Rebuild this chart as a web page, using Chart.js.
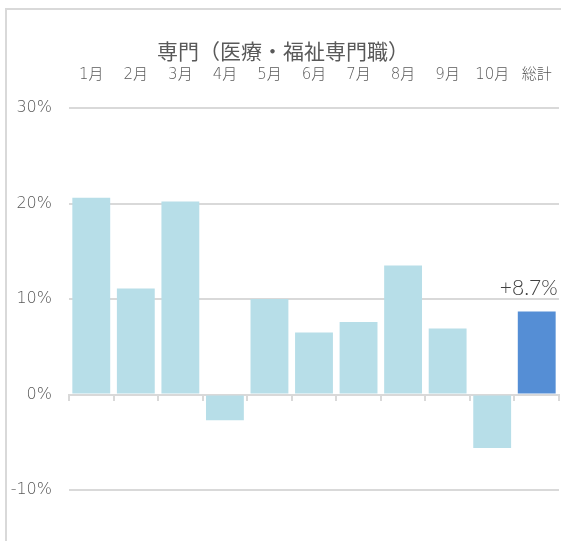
<!DOCTYPE html>
<html>
<head>
<meta charset="utf-8">
<script src="https://cdn.jsdelivr.net/npm/chart.js@4"></script>
<style>
  html, body { margin: 0; padding: 0; background: #fff; }
  #wrap { position: relative; width: 561px; height: 541px; overflow: hidden; }
  #frame {
    position: absolute; left: 5px; top: 8px; width: 600px; height: 600px;
    border-top: 2px solid #d9d9d9; border-left: 2px solid #d9d9d9;
  }
  #title {
    position: absolute; left: 157px; top: 36px;
    font-family: 'Noto Sans CJK JP', sans-serif; font-size: 21px; color: #595959;
    white-space: nowrap; line-height: 28px;
  }
  #chart { position: absolute; left: 0; top: 0; }
</style>
</head>
<body>
<div id="wrap">
  <div id="frame"></div>
  <canvas id="chart" width="561" height="541"></canvas>
  <div id="title">専門（医療・福祉専門職）</div>
</div>
<script>
// chart data
const chartTitle = '専門（医療・福祉専門職）';
const categories = ['1月', '2月', '3月', '4月', '5月', '6月', '7月', '8月', '9月', '10月', '総計'];
const growthValues = [20.6, 11.1, 20.2, -2.7, 10.0, 6.5, 7.6, 13.5, 6.9, -5.6, 8.7];
const yTicks = [-10, 0, 10, 20, 30];
const totalLabel = '+8.7%';

const lightColor = '#b7dee8';
const totalColor = '#558ed5';
const gridColor = '#d9d9d9';
const textColor = '#595959';
const fontFamily = "'DejaVu Sans', 'Noto Sans CJK JP', sans-serif";

/**
 * Draws the total's value above its bar
 */
const totalLabelPlugin = {
    id: 'totalLabel',
    afterDatasetsDraw(chart) {
        const meta = chart.getDatasetMeta(0);
        const bar = meta.data[meta.data.length - 1];
        if (!bar) return;
        const ctx = chart.ctx;
        ctx.save();
        ctx.font = "300 21px Lato, 'Noto Sans', sans-serif";
        ctx.fillStyle = '#404040';
        ctx.textAlign = 'right';
        ctx.textBaseline = 'alphabetic';
        ctx.fillText(totalLabel, bar.x + bar.width / 2 + 2, bar.y - 16);
        ctx.restore();
    }
};

const ctx = document.getElementById('chart').getContext('2d');
const chart = new Chart(ctx, {
    type: 'bar',
    data: {
        labels: categories,
        datasets: [{
            label: chartTitle,
            data: growthValues,
            backgroundColor: categories.map((c, i) => i === categories.length - 1 ? totalColor : lightColor),
            barPercentage: 0.85,
            categoryPercentage: 1.0
        }]
    },
    options: {
        responsive: false,
        animation: false,
        layout: { padding: { left: 0, right: 2, top: 0, bottom: 51 } },
        plugins: {
            legend: { display: false },
            title: { display: false },
            tooltip: { enabled: false }
        },
        scales: {
            x: {
                position: 'top',
                grid: { display: false, drawTicks: true, tickLength: 22 },
                border: { display: false },
                ticks: {
                    color: textColor,
                    font: { family: fontFamily, size: 15, weight: '200' },
                    padding: 2,
                    maxRotation: 0,
                    autoSkip: false
                },
                afterFit(scale) { scale.height = 108; }
            },
            x2: {
                axis: 'x',
                type: 'category',
                position: { y: 0 },
                offset: true,
                grid: {
                    offset: true,
                    drawOnChartArea: false,
                    drawTicks: true,
                    tickLength: 5,
                    color: gridColor,
                    lineWidth: 2
                },
                border: { display: true, color: gridColor, width: 2 },
                ticks: { display: false, padding: 0 }
            },
            y: {
                min: yTicks[0],
                max: yTicks[yTicks.length - 1],
                afterBuildTicks(scale) {
                    scale.ticks = yTicks.map(v => ({ value: v }));
                },
                grid: { color: gridColor, lineWidth: 2, drawTicks: false },
                border: { display: false },
                ticks: {
                    color: textColor,
                    font: { family: fontFamily, size: 16, weight: '200' },
                    padding: 17,
                    callback: v => v + '%'
                },
                afterFit(scale) { scale.width = 69; }
            }
        }
    },
    plugins: [totalLabelPlugin]
});
</script>
</body>
</html>
